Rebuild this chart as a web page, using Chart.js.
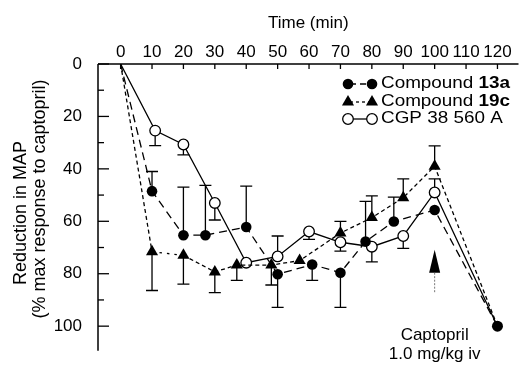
<!DOCTYPE html>
<html><head><meta charset="utf-8">
<script src="https://cdn.jsdelivr.net/npm/chart.js@4.4.1/dist/chart.umd.min.js"></script>
<style>html,body{margin:0;padding:0;background:#fff;overflow:hidden}canvas{display:block}</style>
</head><body>
<canvas id="c" width="524" height="377"></canvas>
<script>
// ---- data ----
const xTickLabels = [0, 10, 20, 30, 40, 50, 60, 70, 80, 90, 100, 110, 120];
const yTickLabels = [0, 20, 40, 60, 80, 100];
const yMinorTicks = [10, 30, 50, 70, 90];

const c13aTime  = [0, 10, 20, 27, 40, 50, 61, 70, 78, 87, 100, 120];
const c13aValue = [0, 48.5, 65.3, 65.3, 62.2, 80.2, 76.5, 79.6, 67.7, 60.1, 55.7, 100];
const c13aErr   = [0, -7.5, -18.3, -19, -15.6, 12.6, 6, 13.2, -15.3, -9.3, 0, 0];

const c19cTime  = [0, 10, 20, 30, 37, 48, 57, 70, 80, 90, 100, 120];
const c19cValue = [0, 71.6, 73, 79.3, 76.7, 76.7, 75, 64.5, 58.6, 51, 39, 100];
const c19cErr   = [0, 14.8, 11, 7.9, 5.8, 7.6, 0, -4.5, -8.3, -7.2, -7.8, 0];

const cgpTime  = [0, 11, 20, 30, 40, 50, 60, 70, 80, 90, 100, 120];
const cgpValue = [0, 25.4, 30.7, 53, 75.8, 73.4, 63.9, 68, 69.7, 65.6, 49, 100];
const cgpErr   = [0, 5.7, 4, 6.5, 0, -7.8, 3, 3.4, 5.8, 4.7, -5.2, 0];

const arrowTime = 100;
const arrowTip = 70.9, arrowHeadBase = 79.6, arrowEnd = 87.4;
const noteLines = ['Captopril', '1.0 mg/kg iv'];

const FONT = '"Liberation Sans", Arial, Helvetica, sans-serif';

const series = [
  {time: c13aTime, value: c13aValue, err: c13aErr},
  {time: c19cTime, value: c19cValue, err: c19cErr},
  {time: cgpTime, value: cgpValue, err: cgpErr}
];
const pts = (t, v) => t.map((x, i) => ({x: x, y: v[i]}));
const radii = (n, r, last) => Array.from({length: n}, (_, i) => i === 0 ? 0 : (i === n - 1 ? last : r));

function drawMarker(ctx, type, x, y) {
  ctx.save();
  ctx.lineWidth = 1.3; ctx.strokeStyle = '#000'; ctx.fillStyle = '#000';
  if (type === 'fill') { ctx.beginPath(); ctx.arc(x, y, 5.3, 0, Math.PI * 2); ctx.fill(); }
  else if (type === 'open') { ctx.beginPath(); ctx.arc(x, y, 5.3, 0, Math.PI * 2); ctx.fillStyle = '#fff'; ctx.fill(); ctx.stroke(); }
  else { const r = 7; ctx.beginPath(); ctx.moveTo(x, y - r); ctx.lineTo(x + r * 0.866, y + r * 0.5); ctx.lineTo(x - r * 0.866, y + r * 0.5); ctx.closePath(); ctx.fill(); }
  ctx.restore();
}

const decor = {
  id: 'decor',
  beforeDatasetsDraw(chart) {
    const {ctx, scales: {x, y}} = chart;
    ctx.save();
    ctx.strokeStyle = '#000'; ctx.lineWidth = 1.3; ctx.setLineDash([]);
    series.forEach(s => {
      s.time.forEach((t, i) => {
        const e = s.err[i]; if (!e) return;
        const px = x.getPixelForValue(t);
        const p0 = y.getPixelForValue(s.value[i]);
        const p1 = y.getPixelForValue(s.value[i] + e);
        ctx.beginPath(); ctx.moveTo(px, p0); ctx.lineTo(px, p1);
        ctx.moveTo(px - 6, p1); ctx.lineTo(px + 6, p1); ctx.stroke();
      });
    });
    ctx.restore();
  },
  afterDraw(chart) {
    const {ctx, chartArea: a, scales: {x, y}} = chart;
    ctx.save();
    ctx.strokeStyle = '#000'; ctx.fillStyle = '#000'; ctx.lineWidth = 1.5; ctx.setLineDash([]);
    // axes
    ctx.beginPath(); ctx.moveTo(a.left, a.top); ctx.lineTo(a.right, a.top);
    ctx.moveTo(a.left, a.top); ctx.lineTo(a.left, a.bottom); ctx.stroke();
    ctx.lineWidth = 1.3;
    xTickLabels.forEach(v => { const px = x.getPixelForValue(v); ctx.beginPath(); ctx.moveTo(px, a.top); ctx.lineTo(px, a.top + 5); ctx.stroke(); });
    yTickLabels.forEach(v => { const py = y.getPixelForValue(v); ctx.beginPath(); ctx.moveTo(a.left, py); ctx.lineTo(a.left + 11, py); ctx.stroke(); });
    yMinorTicks.forEach(v => { const py = y.getPixelForValue(v); ctx.beginPath(); ctx.moveTo(a.left, py); ctx.lineTo(a.left + 6, py); ctx.stroke(); });
    // y title
    ctx.font = '18px ' + FONT; ctx.textAlign = 'center'; ctx.textBaseline = 'middle';
    ctx.save(); ctx.translate(21, 213); ctx.rotate(-Math.PI / 2); ctx.fillText('Reduction in MAP', 0, 0); ctx.restore();
    ctx.save(); ctx.translate(40, 199); ctx.rotate(-Math.PI / 2); ctx.fillText('(% max response to captopril)', 0, 0); ctx.restore();
    // arrow
    const ax = x.getPixelForValue(arrowTime);
    const yt = y.getPixelForValue(arrowTip), yb = y.getPixelForValue(arrowHeadBase), ye = y.getPixelForValue(arrowEnd);
    ctx.beginPath(); ctx.moveTo(ax, yt); ctx.lineTo(ax + 5.5, yb); ctx.lineTo(ax - 5.5, yb); ctx.closePath(); ctx.fill();
    ctx.lineWidth = 0.8; ctx.strokeStyle = '#555'; ctx.setLineDash([2, 1.5]);
    ctx.beginPath(); ctx.moveTo(ax, yb); ctx.lineTo(ax, ye); ctx.stroke(); ctx.setLineDash([]);
    ctx.font = '17px ' + FONT; ctx.fillStyle = '#000';
    ctx.fillText(noteLines[0], ax, 335);
    ctx.fillText(noteLines[1], ax, 354);
    // legend
    const rows = [
      {y: 84, m: 'fill', dash: [6, 4], pre: 'Compound ', bold: '13a'},
      {y: 102, m: 'tri', dash: [3, 3], pre: 'Compound ', bold: '19c'},
      {y: 119, m: 'open', dash: [], pre: 'CGP 38 560 A', bold: ''}
    ];
    rows.forEach(r => {
      ctx.save(); ctx.strokeStyle = '#000'; ctx.lineWidth = 1.3; ctx.setLineDash(r.dash);
      ctx.beginPath(); ctx.moveTo(350, r.y); ctx.lineTo(371, r.y); ctx.stroke(); ctx.restore();
      drawMarker(ctx, r.m, 348, r.y); drawMarker(ctx, r.m, 372, r.y);
      ctx.save(); ctx.translate(381, r.y); ctx.scale(1.18, 1);
      ctx.textAlign = 'left'; ctx.textBaseline = 'middle'; ctx.fillStyle = '#000';
      ctx.font = '16px ' + FONT; ctx.fillText(r.pre, 0, 0);
      const w = ctx.measureText(r.pre).width;
      if (r.bold) { ctx.font = 'bold 16px ' + FONT; ctx.fillText(r.bold, w, 0); }
      ctx.restore();
    });
    ctx.restore();
  }
};

new Chart(document.getElementById('c'), {
  type: 'scatter',
  data: {
    datasets: [
      {label: 'Compound 13a', data: pts(c13aTime, c13aValue), showLine: true, borderColor: '#000', borderWidth: 1.3, borderDash: [8, 5],
       pointStyle: 'circle', pointRadius: radii(c13aTime.length, 5.3, 5.5), pointBackgroundColor: '#000', pointBorderColor: '#000', pointBorderWidth: 0},
      {label: 'Compound 19c', data: pts(c19cTime, c19cValue), showLine: true, borderColor: '#000', borderWidth: 1.3, borderDash: [4, 3],
       segment: {borderDash: c => c.p0DataIndex === 1 ? [2.5, 5] : undefined},
       pointStyle: 'triangle', pointRadius: radii(c19cTime.length, 7, 0), pointBackgroundColor: '#000', pointBorderColor: '#000', pointBorderWidth: 0},
      {label: 'CGP 38 560 A', data: pts(cgpTime, cgpValue), showLine: true, borderColor: '#000', borderWidth: 1.3,
       pointStyle: 'circle', pointRadius: radii(cgpTime.length, 5.3, 0), pointBackgroundColor: '#fff', pointBorderColor: '#000', pointBorderWidth: 1.3}
    ]
  },
  options: {
    responsive: false, animation: false,
    layout: {padding: 0},
    plugins: {legend: {display: false}, tooltip: {enabled: false}},
    scales: {
      x: {
        type: 'linear', position: 'top', min: -7.2, max: 126.7,
        afterBuildTicks: s => { s.ticks = xTickLabels.map(v => ({value: v})); },
        afterFit: s => { s.height = 64; },
        grid: {display: false, drawTicks: false}, border: {display: false},
        ticks: {color: '#000', font: {family: FONT, size: 17}, padding: 1, maxRotation: 0, autoSkip: false},
        title: {display: true, text: 'Time (min)', color: '#000', font: {family: FONT, size: 17}, padding: {top: 13, bottom: 0}}
      },
      y: {
        type: 'linear', reverse: true, min: 0, max: 109.4,
        afterBuildTicks: s => { s.ticks = yTickLabels.map(v => ({value: v})); },
        afterFit: s => { s.width = 98; },
        grid: {display: false, drawTicks: false}, border: {display: false},
        ticks: {color: '#000', font: {family: FONT, size: 17}, padding: 16, autoSkip: false}
      }
    }
  },
  plugins: [decor]
});
</script>
</body></html>
